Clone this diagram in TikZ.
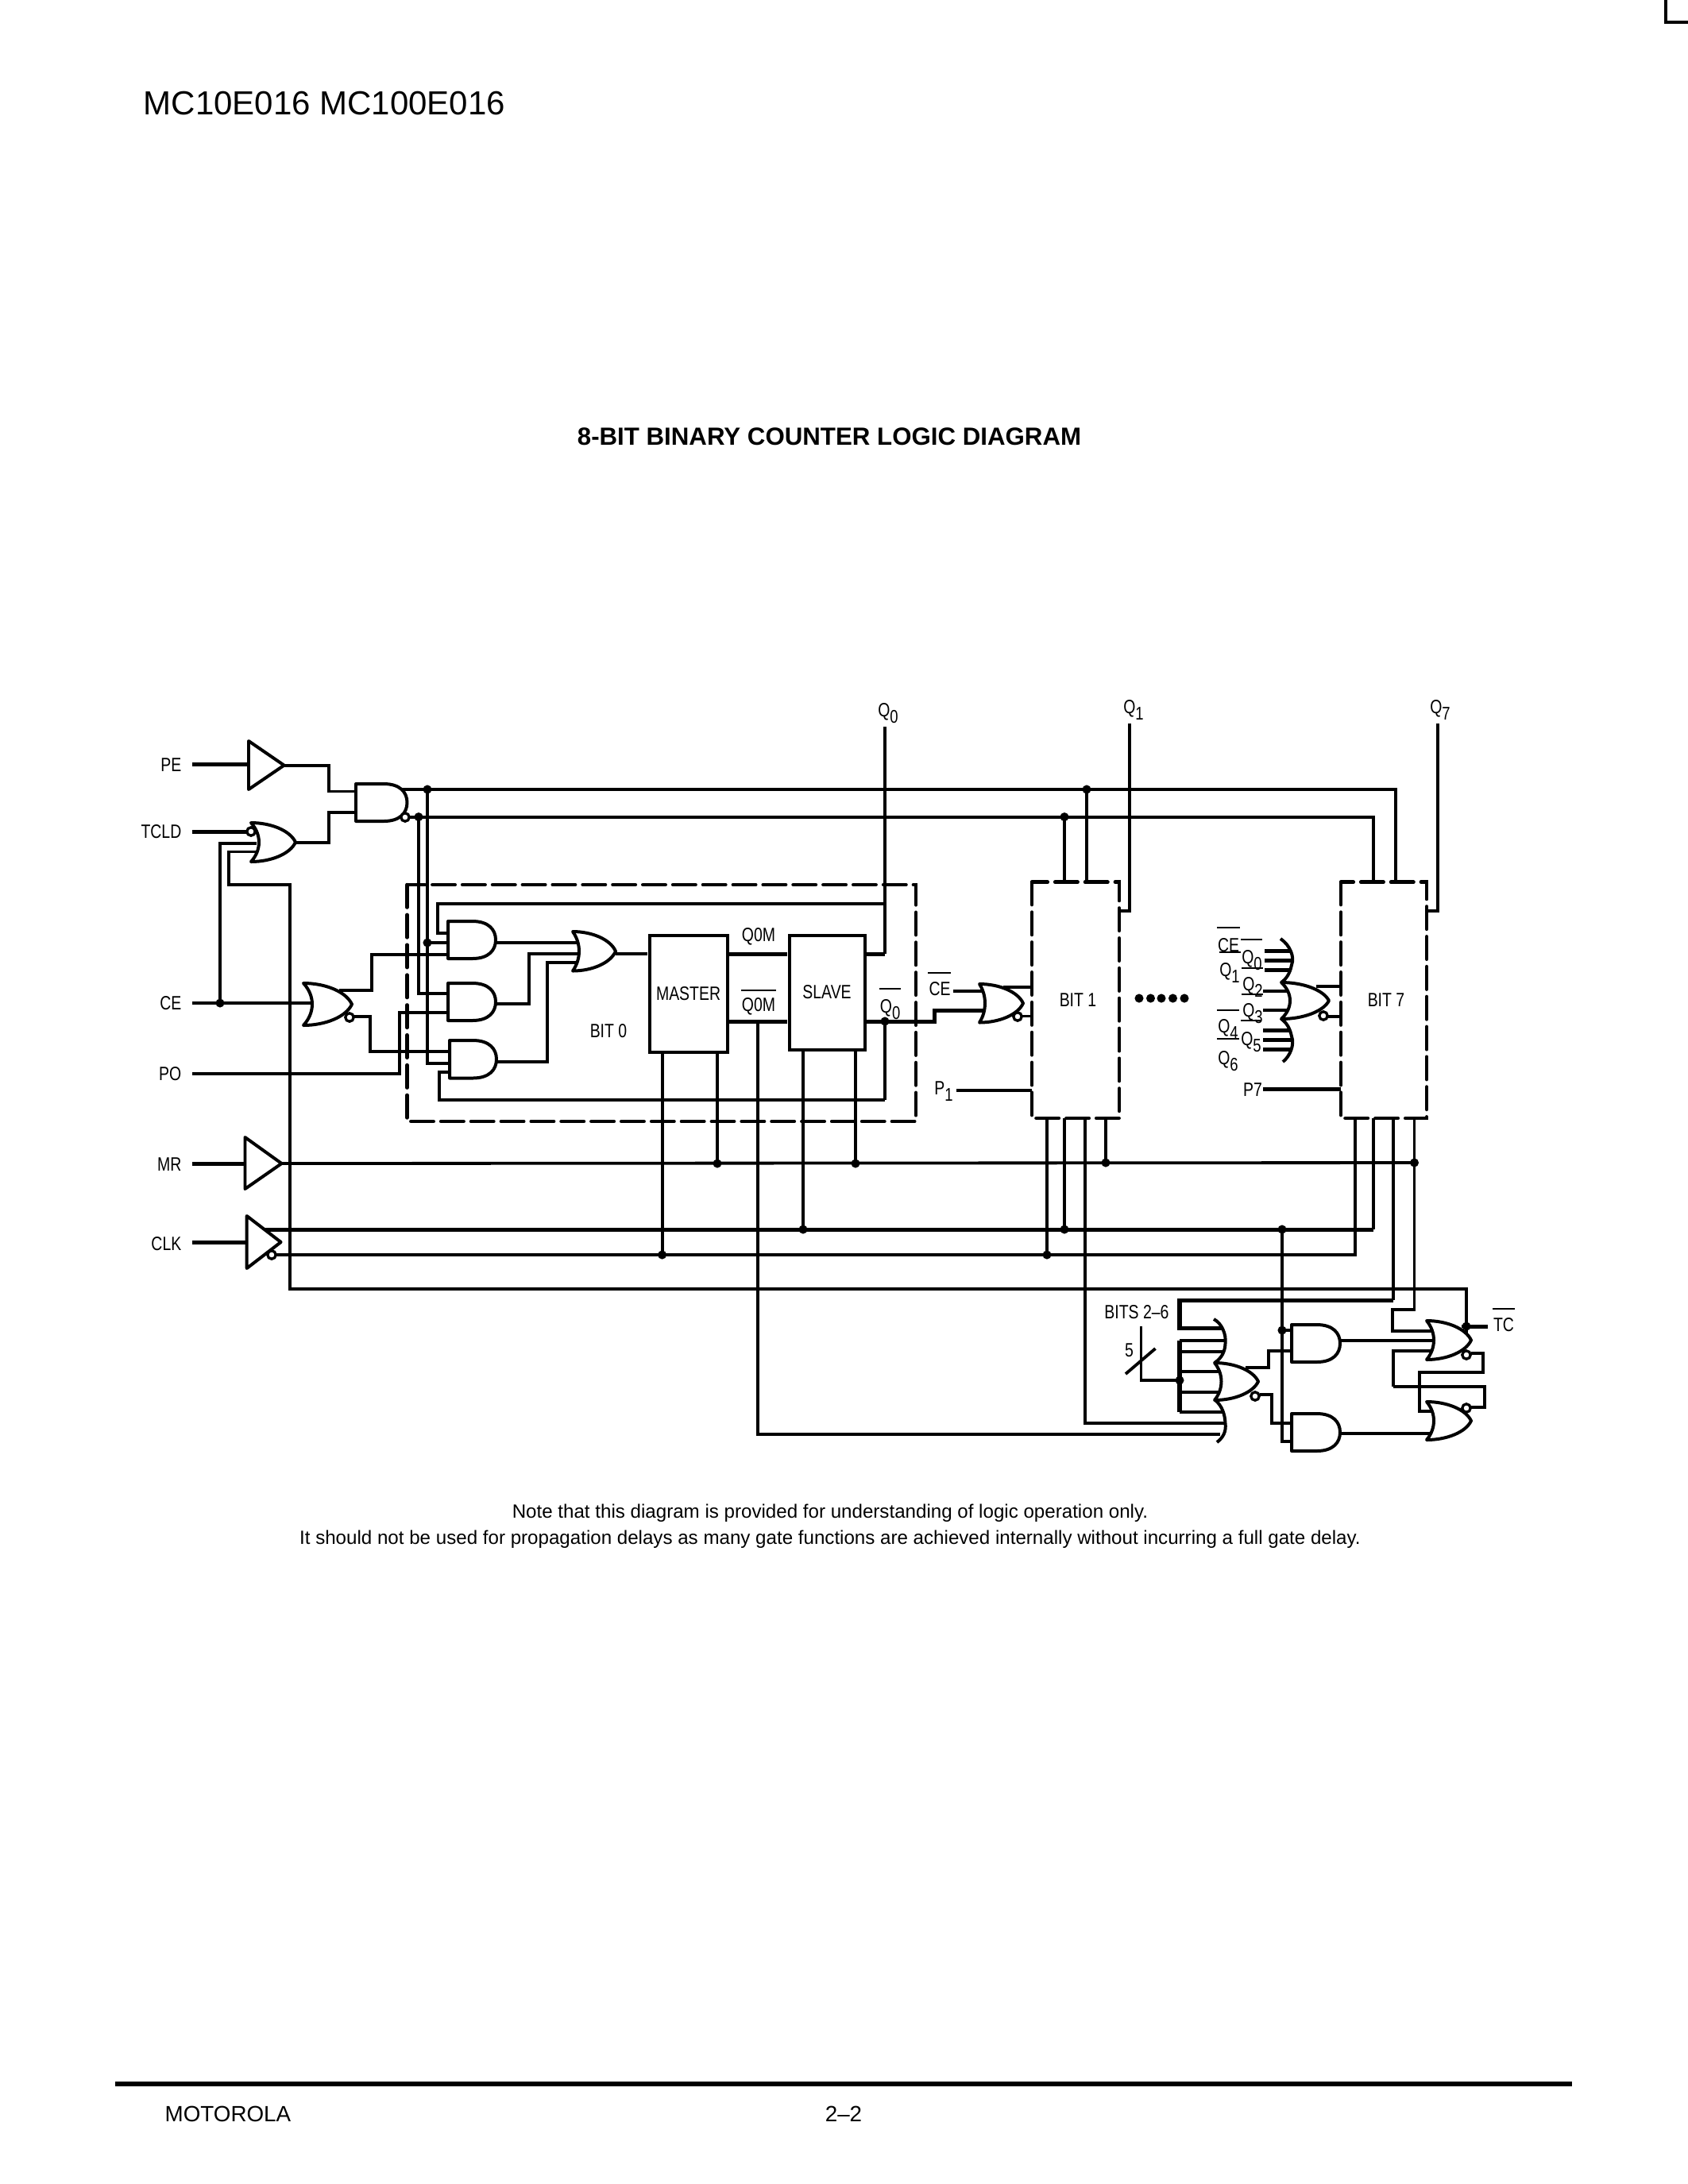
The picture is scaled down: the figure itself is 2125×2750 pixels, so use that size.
\documentclass[tikz,border=0pt]{standalone}
\usepackage{fontspec}
\usepackage{graphicx}
\setmainfont{Liberation Sans}
\newfontfamily\diagfam[FakeStretch=0.8]{Liberation Sans}
\newcommand\dgf{\diagfam\fontsize{7}{8}\selectfont}
\newcommand\Qs[2]{#1\raisebox{-0.65ex}{\scalebox{.95}{#2}}}
\newcommand\ANDG[5]{% name l t b r
  \pgfmathsetmacro\gc{(#3+#4)/2}\pgfmathsetmacro\gh{(#4-#3)/2}\pgfmathsetmacro\gm{#5-1.25*\gh}
  \pgfmathsetmacro\gk{\gm+0.7*1.25*\gh}\pgfmathsetmacro\gu{\gc-0.55*\gh}\pgfmathsetmacro\gv{\gc+0.55*\gh}
  \draw[gate] (#2,#3) -- (\gm,#3) .. controls (\gk,#3) and (#5,\gu) .. (#5,\gc) .. controls (#5,\gv) and (\gk,#4) .. (\gm,#4) -- (#2,#4) -- cycle;
  \coordinate (#1o) at (#5,\gc);}
\newcommand\ORG[6]{% name xl t b d tip
  \pgfmathsetmacro\gc{(#3+#4)/2}\pgfmathsetmacro\gh{#4-#3}\pgfmathsetmacro\gw{#6-#2}
  \pgfmathsetmacro\ga{#2+0.45*\gw}\pgfmathsetmacro\gb{#6-0.12*\gw}
  \pgfmathsetmacro\gu{\gc-0.3*\gh}\pgfmathsetmacro\gv{\gc+0.3*\gh}
  \pgfmathsetmacro\gd{#2+#5/0.75}\pgfmathsetmacro\gp{\gc-0.2*\gh}\pgfmathsetmacro\gq{\gc+0.2*\gh}
  \draw[gate] (#2,#3) .. controls (\ga,#3) and (\gb,\gu) .. (#6,\gc) .. controls (\gb,\gv) and (\ga,#4) .. (#2,#4) .. controls (\gd,\gq) and (\gd,\gp) .. cycle;
  \coordinate (#1o) at (#6,\gc);}
\begin{document}
\begin{tikzpicture}[x=0.288pt,y=-0.288pt,
  wire/.style={line width=1.1pt,line join=miter},
  hw/.style={line width=1.45pt,line join=miter},
  gate/.style={line width=1.15pt,fill=white,line join=round},
  bubble/.style={line width=0.95pt,fill=white},
  boxb/.style={line width=1.2pt},
  dashb/.style={line width=1.3pt,line cap=round,dash pattern=on 8.2pt off 2.7pt},
  lab/.style={font=\dgf,inner sep=0pt},
  lbl/.style={font=\dgf,inner sep=0pt,anchor=east},
  bar/.style={line width=0.8pt}]
\useasboundingbox (0,0) rectangle (2125,2750);
% page furniture
\node[anchor=west,inner sep=0pt,font=\fontsize{12.1}{15}\selectfont] (hdr) at (180,130) {MC10E016 MC100E016};
\node[inner sep=0pt,font=\bfseries\fontsize{9}{11}\selectfont] (ttl) at (1044,550) {8-BIT BINARY COUNTER LOGIC DIAGRAM};
\node[inner sep=0pt,font=\fontsize{6.95}{9}\selectfont] (nt1) at (1045,1905) {Note that this diagram is provided for understanding of logic operation only.};
\node[inner sep=0pt,font=\fontsize{6.95}{9}\selectfont] (nt2) at (1045,1938) {It should not be used for propagation delays as many gate functions are achieved internally without incurring a full gate delay.};
\node[anchor=west,inner sep=0pt,font=\fontsize{8}{10}\selectfont] (mot) at (207,2662) {MOTOROLA};
\node[inner sep=0pt,font=\fontsize{8}{10}\selectfont] (pag) at (1062,2662) {2–2};
\coordinate (ruleL) at (145,2624); \coordinate (ruleR) at (1979,2624);
\draw[line width=1.5pt] (ruleL) -- (ruleR);
\coordinate (cornA) at (2096.7,0); \coordinate (cornB) at (2096.7,28); \coordinate (cornC) at (2125,28);
\draw[line width=1.15pt] (cornA) -- (cornB) -- (cornC);
% pin coordinates
\coordinate (tPE) at (357.6,963.6); \coordinate (tMR) at (354.5,1465); \coordinate (tCK) at (353.6,1564);
\coordinate (dU) at (538,994); \coordinate (dL) at (527,1028.6); \coordinate (dCE) at (277,1263);
\coordinate (dA) at (538,1187); \coordinate (dQb) at (1114,1286);
\coordinate (dM1) at (903,1465); \coordinate (dM2) at (1077,1465); \coordinate (dM3) at (1392,1464); \coordinate (dM4) at (1780.5,1464);
\coordinate (dC1) at (1011,1548); \coordinate (dC2) at (1340,1548); \coordinate (dC3) at (1614,1548);
\coordinate (dN1) at (833.6,1580); \coordinate (dN2) at (1318,1580);
\coordinate (dB1) at (1368,994); \coordinate (dB2) at (1340,1028.6);
\coordinate (dBus) at (1485,1738); \coordinate (dG) at (1614,1675); \coordinate (dTC) at (1846,1670);
% labels, left
\node[lbl] (PE) at (229,963.5) {PE};
\node[lbl] (TCLD) at (229,1047) {TCLD};
\node[lbl] (CE) at (229,1263.5) {CE};
\node[lbl] (PO) at (229,1352) {PO};
\node[lbl] (MR) at (229,1466) {MR};
\node[lbl] (CLK) at (229,1566) {CLK};
% input wires
\draw[hw] (242,962.5) -- (313,962.5);
\draw[hw] (242,1047.5) -- (311,1047.5);
\draw[hw] (242,1465) -- (309,1465);
\draw[hw] (242,1564) -- (311,1564);
\draw[wire] (242,1263) -- (393,1263);
% PE / TCLD to NAND
\draw[wire] (tPE) -- (414,963.6) |- (448,996.5);
\draw[wire] (372,1061) -| (414,1023) -- (448,1023);
\draw[wire] (dCE) |- (323,1062);
\draw[wire] (323,1072.5) -| (288,1114) -| (365,1622.7) -| (dTC);
\draw[wire] (dTC) -- (1846,1688);
% NAND outputs
\draw[wire] (500,994) -- (dU) -- (1757,994) -- (1757,1111);
\draw[wire] (515,1028.6) -- (dL) -- (1729,1028.6) -- (1729,1111);
\draw[wire] (dU) |- (566,1339);
\draw[wire] (dL) |- (564,1251);
\draw[wire] (dA) -- (564,1187);
\draw[wire] (dB1) -- (1368,1111);
\draw[wire] (dB2) -- (1340,1111);
% BIT 0 inner wiring
\draw[wire] (564,1175) -| (551,1138) -- (1114,1138);
\draw[wire] (427,1247) -| (468,1202) -- (564,1202);
\draw[wire] (440,1280) -| (466,1324) -- (566,1324);
\draw[wire] (242,1352) -| (503,1275) -- (564,1275);
\draw[wire] (624,1187) -- (728,1187);
\draw[wire] (624,1263.6) -| (665.6,1201) -- (733,1201);
\draw[wire] (625,1337) -| (689,1212) -- (730,1212);
\draw[wire] (566,1350) -| (553,1385) -- (1114,1385);
\draw[wire] (775,1201) -- (815,1201);
\draw[hw] (914,1201) -- (991,1201);
\draw[hw] (914,1286) -- (991,1286);
\draw[hw] (1087,1201) -- (1114,1201);
\draw[wire] (1114,1201) -- (1114,915);
\draw[hw] (1087,1286) -- (dQb) -- (1176.5,1286) -- (1176.5,1272.5) -- (1240,1272.5);
\draw[wire] (dQb) -- (1114,1385);
% flip-flop drops
\draw[wire] (833.6,1324) -- (dN1);
\draw[wire] (903,1324) -- (dM1);
\draw[wire] (1011,1321) -- (dC1);
\draw[wire] (1077,1321) -- (dM2);
\draw[wire] (954,1286) -- (954,1806) -- (1536,1806);
% long rails
\draw[wire] (tMR) -- (dM4);
\draw[hw] (333,1548) -- (1729,1548);
\draw[wire] (1729,1548) -- (1729,1408);
\draw[wire] (342,1580) -- (1706,1580) -- (1706,1408);
\draw[wire] (1318,1408) -- (dN2);
\draw[wire] (1340,1408) -- (dC2);
\draw[wire] (1392,1408) -- (dM3);
\draw[wire] (1366,1408) |- (1541,1792);
\draw[wire] (1422,911) |- (1409,1147);
\draw[wire] (1810,911) |- (1796,1147);
\draw[wire] (1204,1373) -- (1299,1373);
\draw[hw] (1590,1371) -- (1688,1371);
\draw[wire] (1200,1248) -- (1240,1248);
\draw[wire] (1263,1243) -- (1299,1243);
\draw[wire] (1287,1279.5) -- (1299,1279.5);
\draw[wire] (1657,1242) -- (1688,1242);
\draw[wire] (1672,1280) -- (1688,1280);
% terminal count
\draw[wire] (1754,1408) -- (1754,1637);
\draw[hw] (1754,1637) -- (1485,1637) -- (1485,1672) -- (1539,1672);
\draw[wire] (1780.5,1408) -- (1780.5,1649) -| (1753,1676) -- (1805,1676);
\draw[wire] (dC3) -- (1614,1815) -- (1626,1815);
\draw[wire] (dG) -- (1626,1675);
\draw[wire] (1568,1722) -| (1597,1701) -- (1626,1701);
\draw[wire] (1586,1756) -| (1600.7,1792) -- (1626,1792);
\draw[wire] (1687,1688) -- (1805,1688);
\draw[wire] (1687,1805) -- (1805,1805);
\draw[wire] (1805,1701) -| (1754,1746);
\draw[wire,line width=1.3pt] (1754,1746) -- (1869,1746) -- (1869,1772) -- (1852,1772);
\draw[wire] (1852,1704) -| (1867,1728) -| (1787,1777) -- (1803,1777);
\draw[hw] (dTC) -- (1873,1670);
\draw[wire] (1840,1670) -- (dTC);
% bus
\draw[hw] (1485,1688) -- (1485,1778);
\draw[wire] (1485,1688) -- (1541,1688);
\draw[wire] (1485,1702) -- (1541,1702);
\draw[wire] (1485,1727) -- (1536,1727);
\draw[wire] (1485,1753) -- (1536,1753);
\draw[wire] (1485,1778) -- (1541,1778);
\draw[wire] (1436.5,1670) |- (dBus);
\draw[wire] (1417,1730) -- (1454.5,1698);
% mini-gate inputs, BIT 7
\draw[hw] (1592,1197) -- (1625,1197);
\draw[hw] (1592,1209) -- (1626,1209);
\draw[hw] (1592,1221) -- (1625,1221);
\draw[wire] (1590,1248) -- (1620,1248);
\draw[wire] (1590,1272) -- (1620,1272);
\draw[hw] (1590,1297) -- (1625,1297);
\draw[hw] (1590,1309) -- (1626,1309);
\draw[hw] (1590,1321) -- (1625,1321);
% gates
\draw[gate] (313,933) -- (313,994) -- (tPE) -- cycle;
\draw[gate] (308.5,1432) -- (308.5,1497) -- (tMR) -- cycle;
\draw[gate,fill=none] (310.7,1531) -- (310.7,1597) -- (tCK) -- cycle;
\ANDG{nand}{448}{987}{1034}{512.5}
\ORG{org}{316}{1036}{1085}{10}{372}
\ORG{nor}{382}{1238}{1291}{11}{443}
\ANDG{aA}{564}{1160}{1207}{624}
\ANDG{aB}{564}{1238}{1285}{624}
\ANDG{aC}{566}{1310}{1357.5}{625}
\ORG{orb}{721}{1173}{1222.5}{8}{775}
\ORG{norB}{1233}{1239}{1287.5}{7}{1288}
\ORG{norS}{1613}{1237}{1283}{11}{1673}
\draw[gate,fill=none] (1612,1182) .. controls (1624,1190) and (1630,1205) .. (1626,1215) .. controls (1624,1225) and (1620,1232) .. (1613,1237);
\draw[gate,fill=none] (1613,1283) .. controls (1620,1288) and (1624,1295) .. (1626,1305) .. controls (1630,1315) and (1624,1330) .. (1615,1337);
\ORG{norG}{1529}{1716}{1763}{8.5}{1584}
\draw[gate,fill=none] (1528,1661) .. controls (1538,1666) and (1544,1680) .. (1542.5,1692) .. controls (1542,1702) and (1538,1710) .. (1529,1716);
\draw[gate,fill=none] (1530,1763) .. controls (1538,1770) and (1542,1780) .. (1542.5,1792) .. controls (1544,1802) and (1540,1810) .. (1532,1816);
\ANDG{aT}{1626}{1668}{1715}{1687}
\ANDG{aD}{1626}{1780}{1827}{1687}
\ORG{norT}{1796}{1663}{1712}{9}{1852}
\ORG{norD}{1796}{1765}{1813}{9}{1852}
% bubbles
\foreach \p in {{510,1029},{316,1047},{440,1281},{1281,1280},{1666,1279},{1580,1758},{1846,1706},{1846,1773},{342,1580}}
  \draw[bubble] (\p) circle[radius=1.5pt];
% boxes
\node[draw,boxb,inner sep=0pt,minimum width=98*0.288pt,minimum height=147*0.288pt,anchor=north west,font=\dgf] (master) at (815.5,1175.5) {MASTER};
\node[draw,boxb,inner sep=0pt,minimum width=95*0.288pt,minimum height=144*0.288pt,anchor=north west,font=\dgf] (slave) at (991.5,1175.5) {SLAVE};
\draw[dashb] (512.5,1114) rectangle (1153,1412);
\draw[dashb] (1299,1110.7) rectangle (1409,1408);
\draw[dashb] (1688,1110.7) rectangle (1796,1408);
% junction dots
\foreach \d in {dU,dL,dCE,dA,dQb,dM1,dM2,dM3,dM4,dC1,dC2,dC3,dN1,dN2,dB1,dB2,dBus,dG,dTC}
  \fill (\d) circle[radius=1.6pt];
\foreach \x in {1434,1448.5,1462,1476.5,1491} \fill (\x,1257) circle[radius=1.6pt];
% text
\node[lab] (b0) at (766,1298.5) {BIT 0};
\node[lab] (b1) at (1357,1259) {BIT 1};
\node[lab] (b7) at (1745,1259) {BIT 7};
\node[lab] (qm) at (955,1179) {Q0M};
\node[lab] (qmb) at (955,1267.5) {Q0M};
\draw[bar] (933,1247) -- (976.5,1247);
\node[lab] (q0t) at (1118,898) {\Qs{Q}{0}};
\node[lab] (q1t) at (1427,894) {\Qs{Q}{1}};
\node[lab] (q7t) at (1813,894) {\Qs{Q}{7}};
\node[lab] (q0b) at (1120.6,1271) {\Qs{Q}{0}};
\draw[bar] (1107,1245) -- (1134,1245);
\node[lab] (ceb) at (1183,1245) {CE};
\draw[bar] (1168,1225) -- (1197,1225);
\node[lab] (p1) at (1188,1374) {\Qs{P}{1}};
\node[lab] (p7) at (1577,1372) {P7};
\node[lab] (ce7) at (1546.7,1190) {CE};
\draw[bar] (1532,1168) -- (1561,1168);
\node[lab] (q70) at (1576,1209) {\Qs{Q}{0}};
\draw[bar] (1562,1183) -- (1589,1183);
\node[lab] (q71) at (1548,1225) {\Qs{Q}{1}};
\draw[bar] (1535,1199) -- (1562,1199);
\node[lab] (q72) at (1577,1243) {\Qs{Q}{2}};
\draw[bar] (1563,1219) -- (1590,1219);
\node[lab] (q73) at (1577,1276) {\Qs{Q}{3}};
\draw[bar] (1563,1252) -- (1590,1252);
\node[lab] (q74) at (1546,1296) {\Qs{Q}{4}};
\draw[bar] (1532,1272) -- (1560,1272);
\node[lab] (q75) at (1575,1312) {\Qs{Q}{5}};
\draw[bar] (1562,1285) -- (1588,1285);
\node[lab] (q76) at (1546,1336) {\Qs{Q}{6}};
\draw[bar] (1532,1308) -- (1560,1308);
\node[lab] (bits) at (1431,1652) {BITS 2–6};
\node[lab] (five) at (1421.5,1700) {5};
\node[lab] (tc) at (1893,1668) {TC};
\draw[bar] (1879,1648) -- (1907,1648);
\end{tikzpicture}
\end{document}
